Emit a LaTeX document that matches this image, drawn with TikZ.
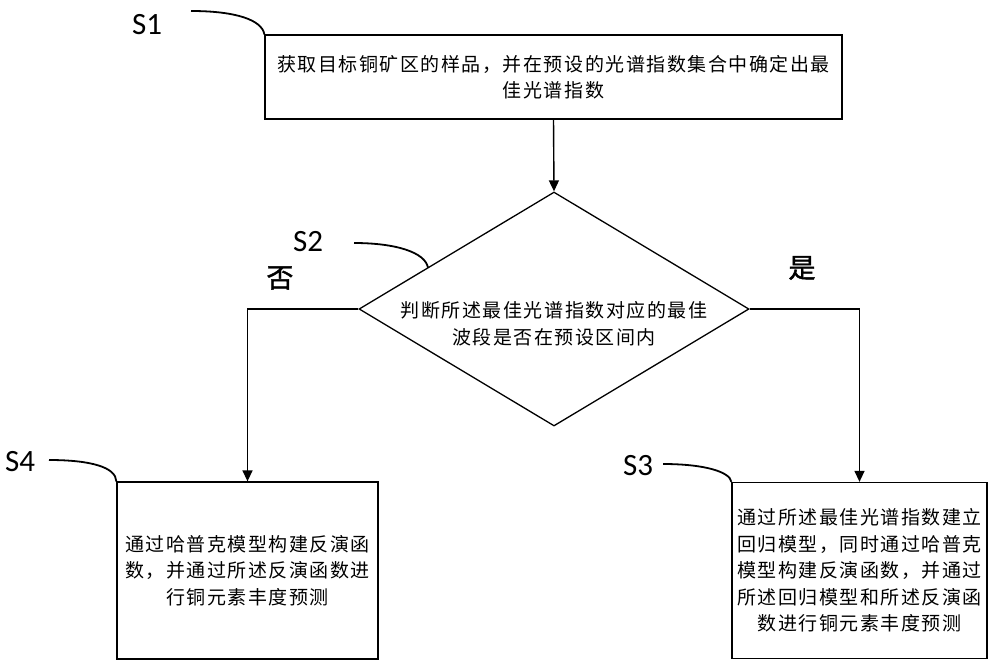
\documentclass[tikz,border=0pt]{standalone}
\usepackage{fontspec}
\newfontfamily\cjk{Noto Sans CJK SC}[LetterSpace=8]
\newfontfamily\cjkb{Noto Sans CJK SC}[BoldFont=*, FakeBold=1.5]
\newfontfamily\lab{Carlito}
\usetikzlibrary{shapes.geometric,arrows.meta}
\begin{document}
\begin{tikzpicture}[x=1pt,y=-1pt,
  box/.style={draw,line width=1.3pt,rectangle,inner sep=0pt,align=center,
    font=\cjk\fontsize{19}{26.5}\selectfont},
  dia/.style={draw,line width=1.3pt,diamond,inner sep=0pt,minimum width=390pt,minimum height=234pt},
  txt/.style={inner sep=0pt,align=center,font=\cjk\fontsize{19}{27}\selectfont},
  slab/.style={inner sep=0pt,font=\lab\fontsize{31}{32}\selectfont},
  yn/.style={inner sep=0pt,font=\cjkb\fontsize{27}{28}\selectfont},
  conn/.style={line width=1.4pt,-{Triangle[length=11pt,width=10pt]}},
  lead/.style={line width=1.8pt}]
\useasboundingbox (0,0) rectangle (1000,667);
\fill[white] (0,0) rectangle (1000,667);

\node[box,minimum width=577pt,minimum height=84pt] (s1) at (553.5,77)
  {获取目标铜矿区的样品，并在预设的光谱指数集合中确定出最\\佳光谱指数};
\node[dia] (s2) at (554,309) {};
\node[txt] (s2t) at (554,323.5) {判断所述最佳光谱指数对应的最佳\\波段是否在预设区间内};
\node[box,minimum width=261pt,minimum height=177pt] (s4) at (247.5,570.5)
  {通过哈普克模型构建反演函\\数，并通过所述反演函数进\\行铜元素丰度预测};
\node[box,minimum width=255pt,minimum height=176pt] (s3) at (859.5,570.5)
  {通过所述最佳光谱指数建立\\回归模型，同时通过哈普克\\模型构建反演函数，并通过\\所述回归模型和所述反演函\\数进行铜元素丰度预测};

\node[slab] (l1) at (147,25) {S1};
\node[slab] (l2) at (308,242) {S2};
\node[slab] (l3) at (638,466) {S3};
\node[slab] (l4) at (20,462) {S4};
\node[yn] (no) at (280,278) {否};
\node[yn] (yes) at (802,268) {是};

\coordinate (c1) at (191,11);
\coordinate (c2) at (354,243);
\coordinate (c3) at (663,464);
\coordinate (c4) at (49,460);
\coordinate (e2) at (428,267.6);

\draw[lead] (c1) .. controls (236,11) and (262,20) .. (s1.north west);
\draw[lead] (c2) .. controls (395,243) and (425,252) .. (e2);
\draw[lead] (c3) .. controls (705,464) and (730,472) .. (s3.north west);
\draw[lead] (c4) .. controls (90,460) and (116,467) .. (s4.north west);

\draw[conn] (s1.south) -- (s2.north);
\draw[conn] (s2.west) -| (s4.north);
\draw[conn] (s2.east) -| (s3.north);
\end{tikzpicture}
\end{document}
